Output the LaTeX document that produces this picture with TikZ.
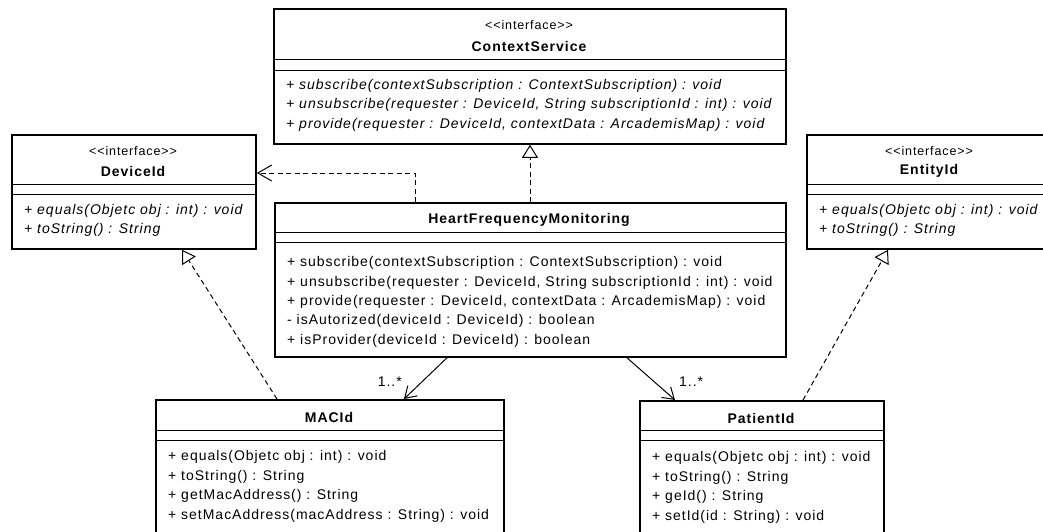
\documentclass[tikz,border=0pt]{standalone}
\usepackage{fontspec}
\setmainfont{Liberation Sans}[LetterSpace=7, Ligatures=TeXOff]
\usetikzlibrary{arrows.meta,calc}

\tikzset{
  classbox/.style={draw=black, line width=1.8pt, fill=white, anchor=north west, inner sep=0pt},
  divider/.style={line width=1pt},
  stereo/.style={font=\fontsize{12.5}{14}\selectfont, inner sep=0pt},
  cname/.style={font=\fontsize{14}{16}\selectfont\bfseries, inner sep=0pt},
  member/.style={font=\fontsize{14}{16}\selectfont, inner sep=0pt, anchor=west},
  absop/.style={font=\fontsize{14}{16}\selectfont\itshape, inner sep=0pt, anchor=west},
  mult/.style={font=\fontsize{14}{16}\selectfont, inner sep=0pt},
  dashline/.style={line width=1pt, dash pattern=on 5pt off 3.5pt},
  realize/.style={dashline, -{Triangle[open,length=13pt,width=16pt]}},
  depend/.style={dashline, -{Straight Barb[length=14pt,width=16pt]}},
  assoc/.style={line width=1pt, -{Straight Barb[length=11pt,width=14pt]}},
}

\begin{document}
\begin{tikzpicture}[x=1pt, y=-1pt]
\useasboundingbox (0,0) rectangle (1043,531);
\clip (0,0) rectangle (1043,531);

% ---------- class boxes ----------
\node[classbox, minimum width=512pt, minimum height=135pt] (cs)  at (273,8)   {};
\node[classbox, minimum width=244pt, minimum height=114pt] (dev) at (11,134)  {};
\node[classbox, minimum width=246pt, minimum height=114pt] (ent) at (806,134) {};
\node[classbox, minimum width=511pt, minimum height=154pt] (hfm) at (274,202) {};
\node[classbox, minimum width=348pt, minimum height=150pt] (mac) at (155,399) {};
\node[classbox, minimum width=244pt, minimum height=150pt] (pat) at (639,400) {};

% compartment separators
\foreach \bx/\a/\b in {cs/51/62, dev/50/60.5, ent/50/60.5, hfm/30.5/40, mac/31/41, pat/30/40} {
  \draw[divider] ($(\bx.north west)+(0,\a)$) -- ($(\bx.north east)+(0,\a)$);
  \draw[divider] ($(\bx.north west)+(0,\b)$) -- ($(\bx.north east)+(0,\b)$);
}

% ---------- ContextService ----------
\node[stereo] (cs-st) at (529,25) {<<interface>>};
\node[cname]  (cs-nm) at (529,46) {ContextService};
\node[absop] (cs-op1) at (286,86)    {+ subscribe(contextSubscription : ContextSubscription) : void};
\node[absop] (cs-op2) at (286,105.3) {+ unsubscribe(requester : DeviceId, String subscriptionId : int) : void};
\node[absop] (cs-op3) at (286,124.6) {+ provide(requester : DeviceId, contextData : ArcademisMap) : void};

% ---------- DeviceId ----------
\node[stereo] (dev-st) at (133,151) {<<interface>>};
\node[cname]  (dev-nm) at (133,171) {DeviceId};
\node[absop] (dev-op1) at (24,211) {+ equals(Objetc obj : int) : void};
\node[absop] (dev-op2) at (24,230) {+ toString() : String};

% ---------- EntityId ----------
\node[stereo] (ent-st) at (929,151) {<<interface>>};
\node[cname]  (ent-nm) at (929,171) {EntityId};
\node[absop] (ent-op1) at (819,211) {+ equals(Objetc obj : int) : void};
\node[absop] (ent-op2) at (819,230) {+ toString() : String};

% ---------- HeartFrequencyMonitoring ----------
\node[cname] (hfm-nm) at (529,220) {HeartFrequencyMonitoring};
\node[member] (hfm-op1) at (287,263)   {+ subscribe(contextSubscription : ContextSubscription) : void};
\node[member] (hfm-op2) at (287,282.4) {+ unsubscribe(requester : DeviceId, String subscriptionId : int) : void};
\node[member] (hfm-op3) at (287,301.8) {+ provide(requester : DeviceId, contextData : ArcademisMap) : void};
\node[member] (hfm-op4) at (287,321.2) {- isAutorized(deviceId : DeviceId) : boolean};
\node[member] (hfm-op5) at (287,340.6) {+ isProvider(deviceId : DeviceId) : boolean};

% ---------- MACId ----------
\node[cname] (mac-nm) at (329,417) {MACId};
\node[member] (mac-op1) at (168,457)   {+ equals(Objetc obj : int) : void};
\node[member] (mac-op2) at (168,476.5) {+ toString() : String};
\node[member] (mac-op3) at (168,496)   {+ getMacAddress() : String};
\node[member] (mac-op4) at (168,515.5) {+ setMacAddress(macAddress : String) : void};

% ---------- PatientId ----------
\node[cname] (pat-nm) at (761,418) {PatientId};
\node[member] (pat-op1) at (652,458)   {+ equals(Objetc obj : int) : void};
\node[member] (pat-op2) at (652,477.5) {+ toString() : String};
\node[member] (pat-op3) at (652,497)   {+ geId() : String};
\node[member] (pat-op4) at (652,516.5) {+ setId(id : String) : void};

% ---------- relations ----------
% usage dependency on DeviceId
\draw[depend] ($(hfm.north west)+(141,0)$) |- ($(dev.north east)+(0,39)$);
% interface realizations
\draw[realize] ($(hfm.north west)+(256,0)$) -- ($(cs.south west)+(257,0)$);
\draw[realize] ($(mac.north west)+(122,0)$) -- ($(dev.south west)+(171,0)$);
\draw[realize] ($(pat.north west)+(164,0)$) -- ($(ent.south west)+(82,0)$);
% navigable associations
\draw[assoc] ($(hfm.south west)+(173,0)$) -- ($(mac.north west)+(249,0)$);
\draw[assoc] ($(hfm.south west)+(353,0)$) -- ($(pat.north west)+(36,0)$);
\node[mult, anchor=east] (mac-mult) at (402,382) {1..*};
\node[mult, anchor=west] (pat-mult) at (679,382) {1..*};

\end{tikzpicture}
\end{document}
